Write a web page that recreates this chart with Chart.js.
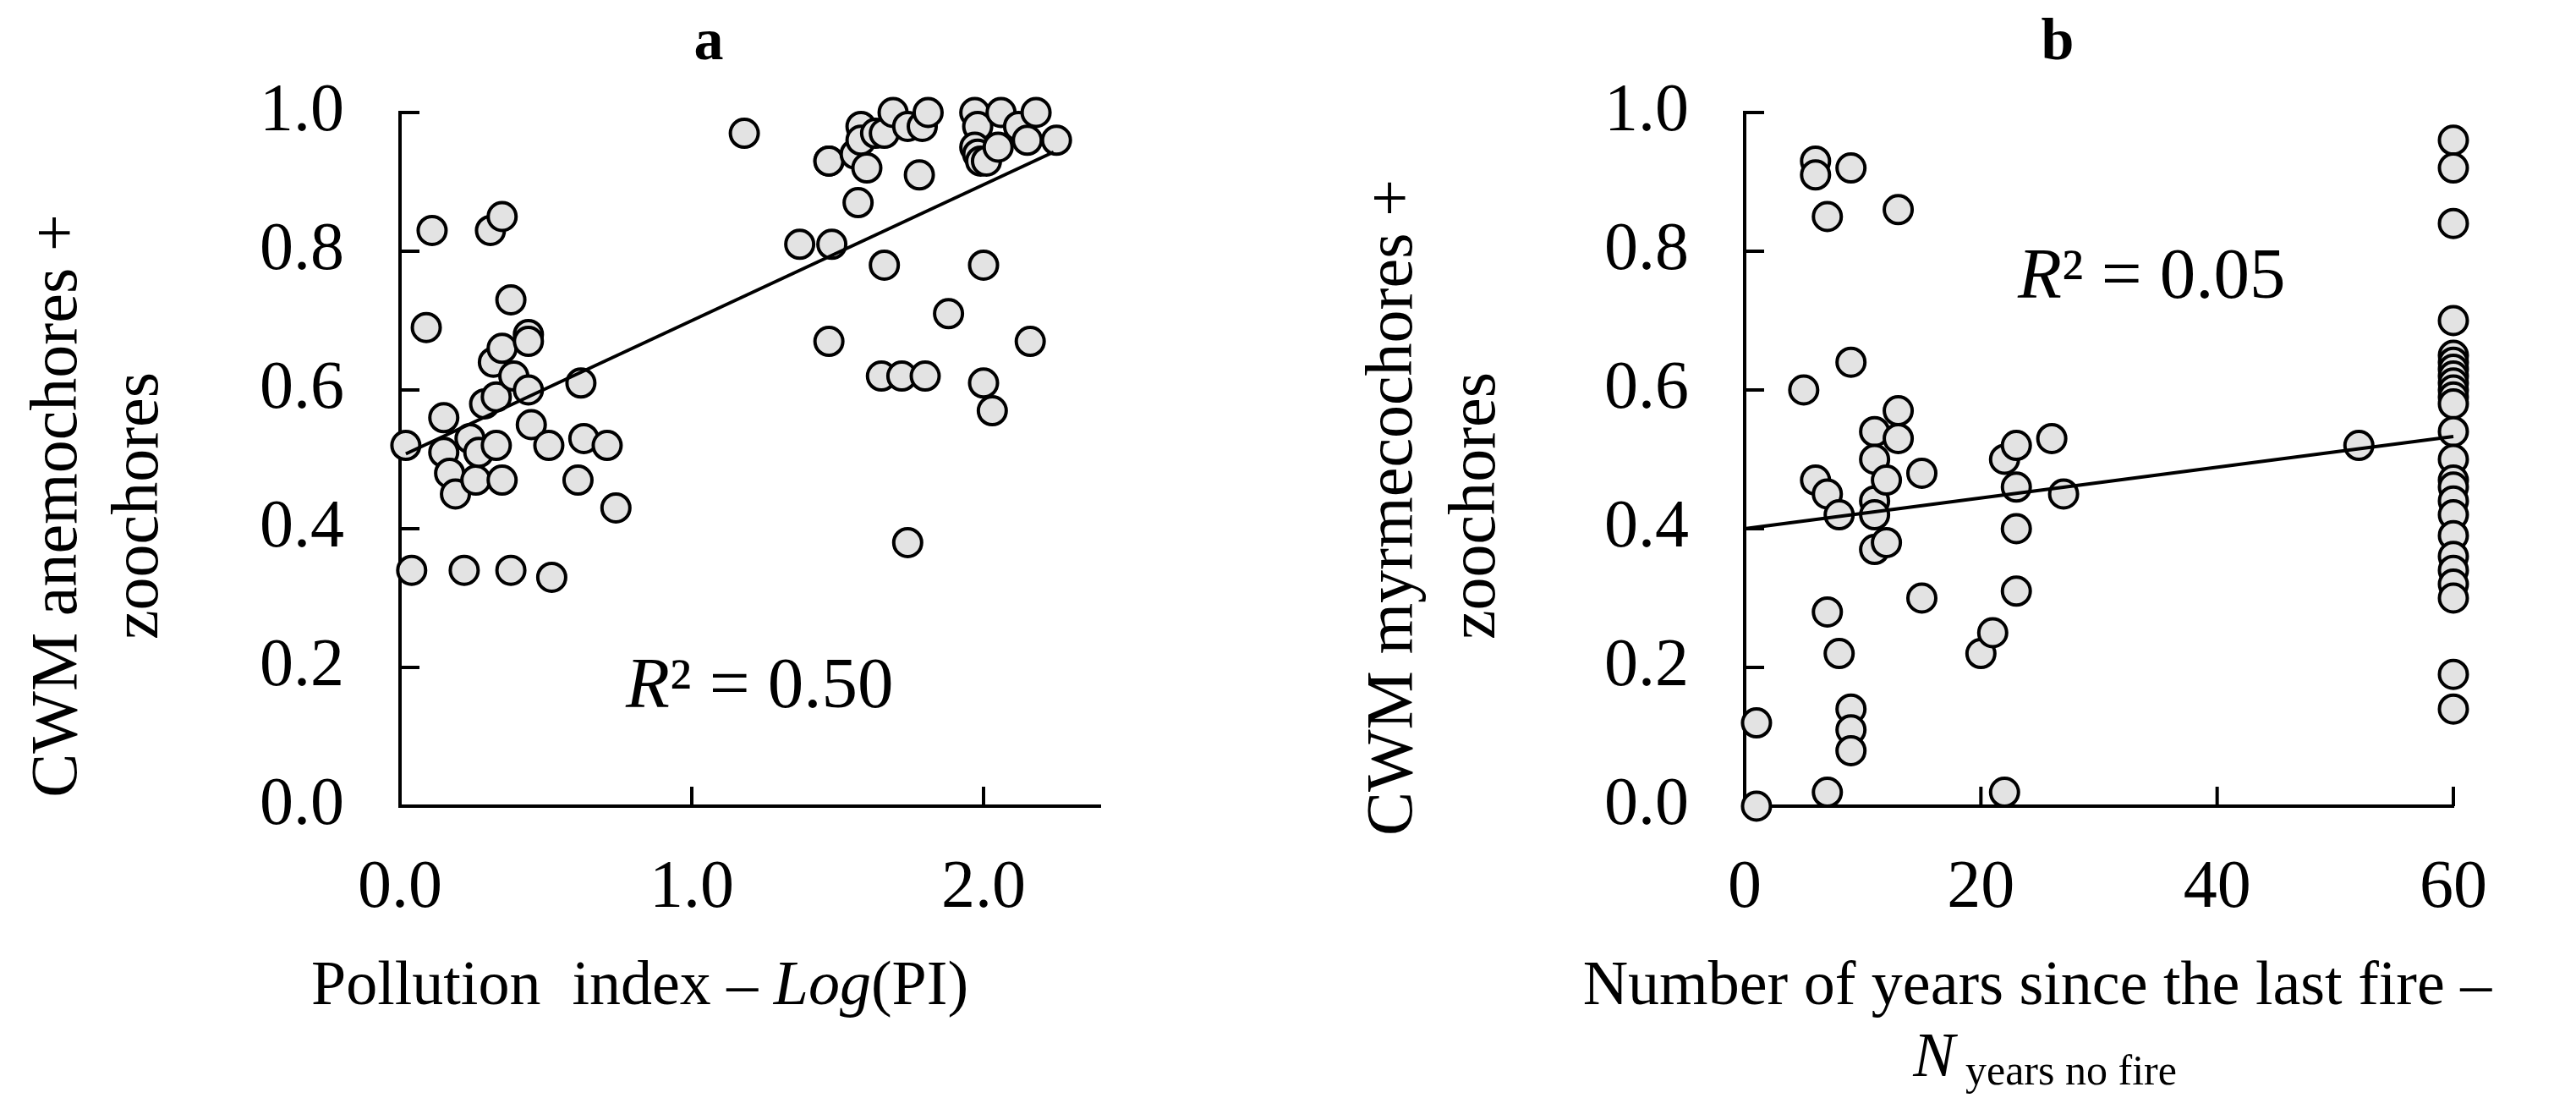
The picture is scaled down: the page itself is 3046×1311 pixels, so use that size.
<!DOCTYPE html>
<html lang="en">
<head>
    <meta charset="UTF-8">
    <title>CWM dispersal types vs pollution and fire</title>
    <script src="https://cdn.jsdelivr.net/npm/chart.js@4.4.1/dist/chart.umd.min.js"></script>
    <style>
        html, body { margin: 0; padding: 0; background: #fff; }
        .wrap { position: relative; width: 3046px; height: 1311px; }
        .panel { position: absolute; top: 0; width: 1523px; height: 1311px; }
        #panelA { left: 0; }
        #panelB { left: 1523px; }
    </style>
</head>
<body>
<div class="wrap">
    <div class="panel" id="panelA"><canvas id="chartA" width="1523" height="1311"></canvas></div>
    <div class="panel" id="panelB"><canvas id="chartB" width="1523" height="1311"></canvas></div>
</div>

<script>
    // panel a: pollution index vs CWM anemochores + zoochores
    const pollutionIndex = [0.02, 0.04, 0.09, 0.11, 0.15, 0.15, 0.17, 0.19, 0.22, 0.24,
        0.26, 0.27, 0.29, 0.31, 0.33, 0.32, 0.33, 0.35, 0.35, 0.35,
        0.38, 0.38, 0.39, 0.44, 0.44, 0.44, 0.45, 0.51, 0.52, 0.61,
        0.62, 0.63, 0.71, 0.74,
        1.18, 1.37, 1.47, 1.47, 1.48, 1.47, 1.56, 1.57, 1.58, 1.58,
        1.60, 1.63, 1.66, 1.69, 1.66, 1.65, 1.72, 1.74, 1.74, 1.78,
        1.79, 1.80, 1.81, 1.88, 1.97, 1.98, 1.97, 1.98, 1.99, 2.01,
        2.00, 2.00, 2.03, 2.05, 2.06, 2.12, 2.15, 2.16, 2.18, 2.25];
    const cwmAnemoZoo = [0.52, 0.34, 0.69, 0.83, 0.56, 0.51, 0.48, 0.45, 0.34, 0.53,
        0.47, 0.51, 0.58, 0.83, 0.59, 0.64, 0.52, 0.47, 0.66, 0.85,
        0.34, 0.73, 0.62, 0.68, 0.67, 0.60, 0.55, 0.52, 0.33, 0.47,
        0.61, 0.53, 0.52, 0.43,
        0.97, 0.81, 0.93, 0.93, 0.81, 0.67, 0.94, 0.87, 0.98, 0.96,
        0.92, 0.97, 0.97, 1.00, 0.78, 0.62, 0.62, 0.98, 0.38, 0.91,
        0.98, 0.62, 1.00, 0.71, 1.00, 0.98, 0.95, 0.94, 0.93, 0.93,
        0.78, 0.61, 0.57, 0.95, 1.00, 0.98, 0.96, 0.67, 1.00, 0.96];
    const trendAX = [0.02, 2.24];
    const trendAY = [0.508, 0.943];

    // panel b: years since last fire vs CWM myrmecochores + zoochores
    const yearsNoFire = [1, 1, 5, 6, 6, 6, 7, 7, 7, 7,
        8, 8, 9, 9, 9, 9, 9, 11, 11, 11,
        11, 11, 12, 12, 13, 13, 13, 15, 15, 20,
        21, 22, 22, 23, 23, 23, 23, 26, 27, 52,
        60, 60, 60, 60, 60, 60, 60, 60, 60, 60,
        60, 60, 60, 60, 60, 60, 60, 60, 60, 60,
        60, 60, 60, 60, 60];
    const cwmMyrmZoo = [0.12, 0.00, 0.60, 0.93, 0.91, 0.47, 0.85, 0.45, 0.28, 0.02,
        0.42, 0.22, 0.92, 0.64, 0.14, 0.11, 0.08, 0.54, 0.50, 0.44,
        0.42, 0.37, 0.47, 0.38, 0.86, 0.57, 0.53, 0.48, 0.30, 0.22,
        0.25, 0.50, 0.02, 0.52, 0.46, 0.40, 0.31, 0.53, 0.45, 0.52,
        0.96, 0.92, 0.84, 0.70, 0.65, 0.64, 0.63, 0.62, 0.61, 0.60,
        0.59, 0.58, 0.54, 0.50, 0.47, 0.46, 0.44, 0.42, 0.39, 0.36,
        0.34, 0.32, 0.30, 0.19, 0.14];
    const trendBX = [0, 60];
    const trendBY = [0.40, 0.533];

    const yTicks = [0, 0.2, 0.4, 0.6, 0.8, 1.0];
    const xTicksA = [0, 1, 2];
    const xTicksB = [0, 20, 40, 60];

    const SERIF = '"Liberation Serif", "Times New Roman", serif';
    const yTitleFont = '78px ' + SERIF;
    const xTitleFont = '74px ' + SERIF;
    const xTitleItalic = 'italic 74px ' + SERIF;

    function toPoints(xs, ys) {
        return xs.map((x, i) => ({ x: x, y: ys[i] }));
    }

    // tick marks point into the plot, like the original figure
    const inwardTicks = {
        id: 'inwardTicks',
        beforeDatasetsDraw(chart) {
            const { ctx, chartArea, scales } = chart;
            ctx.save();
            ctx.strokeStyle = '#000';
            ctx.lineWidth = 4;
            ctx.beginPath();
            scales.y.ticks.forEach(t => {
                const py = scales.y.getPixelForValue(t.value);
                ctx.moveTo(chartArea.left, py);
                ctx.lineTo(chartArea.left + 23, py);
            });
            scales.x.ticks.forEach(t => {
                const px = scales.x.getPixelForValue(t.value);
                ctx.moveTo(px, chartArea.bottom);
                ctx.lineTo(px, chartArea.bottom - 23);
            });
            ctx.stroke();
            ctx.restore();
        }
    };

    function drawRich(ctx, item) {
        ctx.save();
        ctx.translate(item.x, item.y);
        if (item.rotate) ctx.rotate(item.rotate);
        ctx.fillStyle = '#000';
        ctx.textAlign = 'left';
        ctx.textBaseline = item.baseline || 'alphabetic';
        let total = 0;
        item.parts.forEach(p => { ctx.font = p.font; total += ctx.measureText(p.text).width; });
        let cx = item.align === 'center' ? -total / 2 : 0;
        item.parts.forEach(p => {
            ctx.font = p.font;
            ctx.fillText(p.text, cx, p.dy || 0);
            cx += ctx.measureText(p.text).width;
        });
        ctx.restore();
    }

    function textPlugin(items) {
        return {
            id: 'figureText',
            afterDraw(chart) {
                items.forEach(item => drawRich(chart.ctx, item));
            }
        };
    }

    function makeChart(canvasId, opts) {
        const ctx = document.getElementById(canvasId).getContext('2d');
        return new Chart(ctx, {
            type: 'scatter',
            data: {
                datasets: [
                    {
                        type: 'line',
                        data: opts.trend,
                        borderColor: '#000',
                        borderWidth: 4,
                        pointRadius: 0,
                        fill: false,
                        clip: false,
                        order: 0
                    },
                    {
                        data: opts.points,
                        backgroundColor: '#e3e3e3',
                        borderColor: '#000',
                        borderWidth: 4,
                        pointRadius: 16.5,
                        clip: false,
                        order: 1
                    }
                ]
            },
            options: {
                responsive: false,
                animation: false,
                layout: { padding: opts.padding },
                plugins: {
                    legend: { display: false },
                    tooltip: { enabled: false }
                },
                scales: {
                    x: {
                        type: 'linear',
                        min: opts.xMin,
                        max: opts.xMax,
                        afterBuildTicks: s => { s.ticks = opts.xTicks.map(v => ({ value: v })); },
                        afterFit: s => { s.height = opts.xHeight; },
                        grid: { display: false, drawTicks: false },
                        border: { display: true, color: '#000', width: 4 },
                        ticks: {
                            padding: 50,
                            color: '#000',
                            font: { family: SERIF, size: 80 },
                            callback: opts.xFormat
                        }
                    },
                    y: {
                        type: 'linear',
                        min: 0,
                        max: 1,
                        afterBuildTicks: s => { s.ticks = yTicks.map(v => ({ value: v })); },
                        afterFit: s => { s.width = opts.yWidth; },
                        grid: { display: false, drawTicks: false },
                        border: { display: true, color: '#000', width: 4 },
                        ticks: {
                            padding: 66,
                            color: '#000',
                            font: { family: SERIF, size: 80 },
                            callback: v => v.toFixed(1)
                        }
                    }
                }
            },
            plugins: [inwardTicks, textPlugin(opts.texts)]
        });
    }

    makeChart('chartA', {
        points: toPoints(pollutionIndex, cwmAnemoZoo),
        trend: toPoints(trendAX, trendAY),
        xMin: 0, xMax: 2.4,
        xTicks: xTicksA,
        xFormat: v => v.toFixed(1),
        yWidth: 473, xHeight: 358,
        padding: { left: 0, right: 222, top: 133, bottom: 0 },
        texts: [
            { x: 838, y: 70, align: 'center', parts: [{ text: 'a', font: 'bold 70px ' + SERIF }] },
            { x: 368, y: 1187, parts: [
                { text: 'Pollution  index \u2013 ', font: xTitleFont },
                { text: 'Log', font: xTitleItalic },
                { text: '(PI)', font: xTitleFont }] },
            { x: 70, y: 598, rotate: -Math.PI / 2, align: 'center', baseline: 'middle',
              parts: [{ text: 'CWM anemochores +', font: yTitleFont }] },
            { x: 166, y: 598, rotate: -Math.PI / 2, align: 'center', baseline: 'middle',
              parts: [{ text: 'zoochores', font: yTitleFont }] },
            { x: 740, y: 836, parts: [
                { text: 'R', font: 'italic 85px ' + SERIF },
                { text: '\u00b2 = 0.50', font: '85px ' + SERIF }] }
        ]
    });

    makeChart('chartB', {
        points: toPoints(yearsNoFire, cwmMyrmZoo),
        trend: toPoints(trendBX, trendBY),
        xMin: 0, xMax: 60,
        xTicks: xTicksB,
        xFormat: v => String(v),
        yWidth: 540, xHeight: 358,
        padding: { left: 0, right: 145, top: 133, bottom: 0 },
        texts: [
            { x: 910, y: 70, align: 'center', parts: [{ text: 'b', font: 'bold 70px ' + SERIF }] },
            { x: 886, y: 1187, align: 'center', parts: [
                { text: 'Number of years since the last fire \u2013', font: xTitleFont }] },
            { x: 895, y: 1272, align: 'center', parts: [
                { text: 'N', font: 'italic 74px ' + SERIF },
                { text: ' years no fire', font: '50px ' + SERIF, dy: 10 }] },
            { x: 126, y: 600, rotate: -Math.PI / 2, align: 'center', baseline: 'middle',
              parts: [{ text: 'CWM myrmecochores +', font: yTitleFont }] },
            { x: 224, y: 598, rotate: -Math.PI / 2, align: 'center', baseline: 'middle',
              parts: [{ text: 'zoochores', font: yTitleFont }] },
            { x: 863, y: 352, parts: [
                { text: 'R', font: 'italic 85px ' + SERIF },
                { text: '\u00b2 = 0.05', font: '85px ' + SERIF }] }
        ]
    });
</script>
</body>
</html>
